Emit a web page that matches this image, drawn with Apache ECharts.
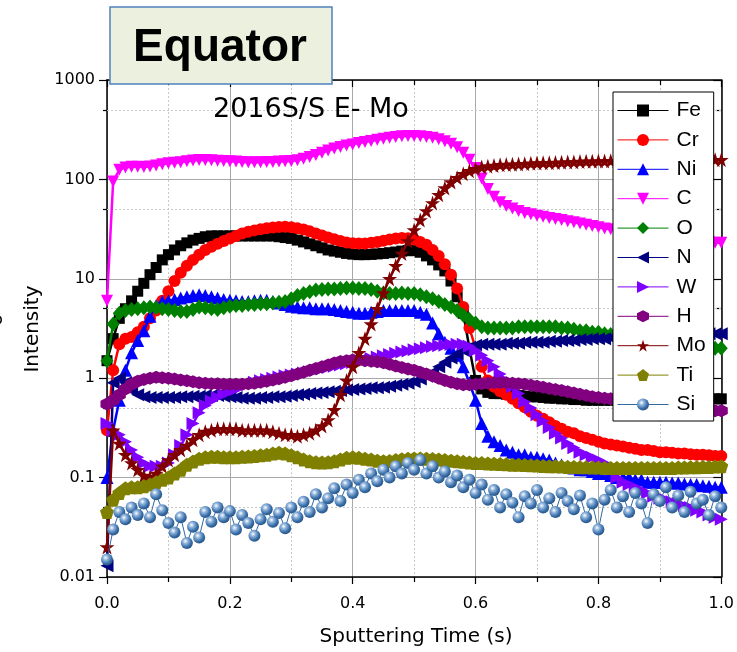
<!DOCTYPE html>
<html><head><meta charset="utf-8">
<script src="https://cdn.jsdelivr.net/npm/echarts@6/dist/echarts.min.js"></script>
<style>html,body{margin:0;padding:0;background:#fff}#c{width:737px;height:652px}</style>
</head><body><div id="c"></div>
<script>
// ---- data ----
const times = [
0.00,0.01,0.02,0.03,0.04,0.05,0.06,0.07,0.08,0.09,
0.10,0.11,0.12,0.13,0.14,0.15,0.16,0.17,0.18,0.19,
0.20,0.21,0.22,0.23,0.24,0.25,0.26,0.27,0.28,0.29,
0.30,0.31,0.32,0.33,0.34,0.35,0.36,0.37,0.38,0.39,
0.40,0.41,0.42,0.43,0.44,0.45,0.46,0.47,0.48,0.49,
0.50,0.51,0.52,0.53,0.54,0.55,0.56,0.57,0.58,0.59,
0.60,0.61,0.62,0.63,0.64,0.65,0.66,0.67,0.68,0.69,
0.70,0.71,0.72,0.73,0.74,0.75,0.76,0.77,0.78,0.79,
0.80,0.81,0.82,0.83,0.84,0.85,0.86,0.87,0.88,0.89,
0.90,0.91,0.92,0.93,0.94,0.95,0.96,0.97,0.98,0.99,
1.00];

const feVals = [
1.5,2.5,4.0,5.0,6.0,7.5,9.0,11,13,15.5,
17.5,19.5,21.5,23,24.5,25.5,26.5,27,27,27,
27,27,27,27,27,27,27,27,26.5,26,
25.5,24.5,23.5,22.5,21.5,20.5,19.5,19,18.5,18,
17.7,17.5,17.5,17.6,17.8,18,18.3,18.6,19,19.2,
19.2,18.5,17,15.5,13.8,12,9.5,6.6,4.5,2.0,
0.95,0.78,0.72,0.7,0.7,0.69,0.68,0.67,0.66,0.65,
0.65,0.64,0.63,0.63,0.62,0.62,0.61,0.61,0.6,0.6,
0.6,0.6,0.6,0.6,0.6,0.6,0.6,0.6,0.6,0.6,
0.6,0.6,0.6,0.6,0.61,0.61,0.61,0.62,0.62,0.62,
0.62];

const crVals = [
0.3,1.2,2.2,2.5,2.6,2.9,3.3,4.0,4.8,6.0,
7.5,9.5,11.5,13.5,15.5,17.5,19.5,21,22.5,24,
25.5,27,28.5,29.7,30.7,31.5,32.2,32.8,33.2,33.3,
33,32.3,31.3,30,28.6,27.2,26,25,24,23.2,
22.8,22.6,22.7,23,23.5,24.2,24.8,25.4,25.8,25.6,
24.8,23.5,22,19.5,17,14,11,8,5.2,3.2,
2.0,1.3,0.95,0.82,0.74,0.68,0.62,0.56,0.51,0.46,
0.42,0.39,0.36,0.33,0.31,0.29,0.28,0.26,0.25,0.24,
0.23,0.22,0.215,0.21,0.205,0.2,0.195,0.19,0.19,0.185,
0.18,0.18,0.178,0.175,0.175,0.172,0.17,0.17,0.168,0.165,
0.165];

const niVals = [
0.1,0.3,0.6,1.2,1.8,2.4,3.0,4.2,5.4,5.9,
6.0,6.2,6.4,6.6,6.8,6.9,6.8,6.6,6.4,6.2,
6.1,6.0,5.9,5.9,6.0,6.1,6.1,5.9,5.7,5.5,
5.3,5.2,5.1,5.1,5.0,5.0,5.0,4.9,4.8,4.7,
4.6,4.5,4.5,4.6,4.7,4.8,4.8,4.8,4.8,4.8,
4.8,4.6,4.4,3.6,2.8,2.3,2.0,1.7,1.3,0.9,
0.6,0.35,0.26,0.23,0.21,0.19,0.18,0.17,0.17,0.16,
0.16,0.155,0.15,0.14,0.135,0.13,0.125,0.12,0.12,0.115,
0.11,0.11,0.105,0.1,0.1,0.1,0.095,0.095,0.09,0.09,
0.09,0.09,0.088,0.088,0.086,0.085,0.085,0.083,0.082,0.08,
0.08];

const cVals = [
6,95,125,132,134,134,133,135,138,142,
145,147,149,152,155,157,157,156,154,153,
152,151,150,149,149,149,150,150,151,152,
153,156,161,168,176,185,195,204,212,219,
225,232,238,244,250,256,262,267,271,273,
273,271,267,262,254,242,228,210,185,158,
130,102,80,67,59,54,51,48,46,44.5,
43,42,41,40,39,38,37,36,35,34,
33,32,31.5,31,30.5,30,29.5,29,28.5,28,
27.5,27,26.5,26,25.5,25,24.5,24,23.5,23,
23];

const oVals = [
1.5,3.5,4.5,4.8,4.9,5.0,5.1,5.2,5.1,5.0,
4.9,4.8,4.7,4.7,4.9,5.2,5.1,5.0,4.9,5.1,
5.3,5.4,5.4,5.5,5.5,5.6,5.6,5.7,5.8,5.9,
6.3,6.8,7.1,7.4,7.7,7.8,7.9,7.9,8.0,8.1,
8.1,8.0,8.0,7.8,7.5,7.2,7.1,7.1,7.2,7.1,
7.1,6.9,6.6,6.3,5.9,5.5,5.2,4.8,4.3,3.9,
3.6,3.3,3.2,3.2,3.2,3.2,3.2,3.3,3.3,3.3,
3.3,3.3,3.3,3.3,3.2,3.2,3.1,3.0,3.0,2.9,
2.9,2.8,2.75,2.7,2.65,2.6,2.55,2.5,2.45,2.4,
2.4,2.35,2.3,2.25,2.2,2.2,2.15,2.1,2.05,2.0,
2.0];

const nVals = [
0.013,0.9,1.0,0.9,0.75,0.68,0.65,0.64,0.64,0.64,
0.64,0.64,0.65,0.65,0.66,0.66,0.67,0.67,0.67,0.66,
0.65,0.64,0.63,0.63,0.63,0.64,0.64,0.65,0.65,0.66,
0.67,0.68,0.69,0.7,0.71,0.72,0.73,0.74,0.75,0.76,
0.77,0.78,0.79,0.8,0.8,0.81,0.83,0.85,0.87,0.89,
0.92,0.98,1.05,1.15,1.3,1.45,1.6,1.75,1.9,2.05,
2.15,2.2,2.2,2.2,2.2,2.25,2.25,2.25,2.3,2.3,
2.3,2.3,2.35,2.35,2.4,2.4,2.4,2.45,2.45,2.5,
2.5,2.5,2.55,2.55,2.55,2.6,2.6,2.6,2.6,2.65,
2.65,2.65,2.7,2.7,2.7,2.7,2.75,2.75,2.8,2.8,
2.8];

const wVals = [
0.35,0.3,0.27,0.23,0.19,0.16,0.14,0.13,0.13,0.13,
0.14,0.17,0.21,0.27,0.35,0.45,0.53,0.59,0.64,0.69,
0.73,0.77,0.82,0.87,0.91,0.94,0.97,1.0,1.03,1.06,
1.08,1.1,1.13,1.16,1.2,1.24,1.28,1.32,1.36,1.4,
1.44,1.48,1.53,1.58,1.63,1.68,1.73,1.78,1.83,1.88,
1.93,1.98,2.03,2.08,2.12,2.15,2.18,2.2,2.2,2.1,
1.9,1.7,1.5,1.3,1.1,0.95,0.82,0.7,0.58,0.5,
0.43,0.37,0.32,0.28,0.25,0.22,0.2,0.18,0.17,0.16,
0.15,0.14,0.12,0.1,0.09,0.085,0.08,0.075,0.07,0.065,
0.062,0.06,0.057,0.055,0.052,0.05,0.047,0.045,0.042,0.04,
0.038];

const hVals = [
0.55,0.6,0.68,0.78,0.87,0.93,0.97,1.0,1.02,1.01,
1.0,0.98,0.96,0.94,0.92,0.9,0.89,0.88,0.88,0.87,
0.87,0.87,0.87,0.88,0.89,0.91,0.93,0.96,0.99,1.02,
1.06,1.1,1.15,1.2,1.25,1.3,1.36,1.42,1.47,1.5,
1.52,1.52,1.5,1.48,1.46,1.43,1.38,1.33,1.28,1.24,
1.2,1.15,1.1,1.05,1.0,0.95,0.91,0.88,0.86,0.86,
0.87,0.88,0.89,0.9,0.9,0.9,0.89,0.88,0.87,0.85,
0.83,0.81,0.79,0.77,0.75,0.73,0.71,0.69,0.67,0.65,
0.64,0.63,0.62,0.61,0.6,0.59,0.58,0.57,0.56,0.55,
0.54,0.53,0.52,0.51,0.5,0.5,0.49,0.48,0.48,0.47,
0.47];

const moVals = [
0.02,0.3,0.22,0.17,0.14,0.12,0.105,0.1,0.11,0.13,
0.15,0.17,0.19,0.21,0.24,0.27,0.29,0.3,0.31,0.31,
0.31,0.31,0.3,0.3,0.3,0.3,0.3,0.29,0.28,0.27,
0.27,0.26,0.27,0.28,0.3,0.33,0.38,0.48,0.68,0.95,
1.3,1.8,2.5,3.5,5.0,7.2,10,13.5,18,24,
31,39,48,58,70,82,94,104,114,122,
128,133,136,138,140,141,142,143,144,145,
146,147,147,148,149,150,150,151,152,152,
153,153,154,154,155,155,155,156,156,156,
156,157,157,157,157,157,158,158,158,158,
158];

const tiVals = [
0.045,0.06,0.07,0.078,0.08,0.08,0.082,0.085,0.09,0.095,
0.1,0.11,0.12,0.135,0.145,0.155,0.16,0.162,0.162,0.16,
0.16,0.16,0.162,0.163,0.165,0.168,0.17,0.175,0.178,0.175,
0.168,0.16,0.152,0.146,0.143,0.142,0.143,0.146,0.152,0.158,
0.16,0.158,0.155,0.152,0.148,0.146,0.147,0.15,0.153,0.155,
0.156,0.156,0.155,0.154,0.152,0.15,0.148,0.146,0.144,0.142,
0.14,0.14,0.139,0.138,0.137,0.136,0.135,0.135,0.134,0.133,
0.132,0.131,0.13,0.13,0.129,0.128,0.128,0.127,0.127,0.126,
0.126,0.125,0.125,0.125,0.125,0.125,0.125,0.125,0.125,0.125,
0.125,0.125,0.125,0.126,0.126,0.127,0.127,0.128,0.128,0.129,
0.13];

const siVals = [
0.015,0.03,0.045,0.038,0.05,0.042,0.055,0.04,0.068,0.047,
0.035,0.028,0.04,0.022,0.032,0.025,0.045,0.036,0.05,0.04,
0.046,0.03,0.042,0.035,0.026,0.038,0.048,0.036,0.044,0.031,
0.05,0.04,0.057,0.045,0.068,0.05,0.062,0.078,0.058,0.085,
0.07,0.095,0.08,0.11,0.092,0.12,0.1,0.13,0.11,0.14,
0.12,0.15,0.11,0.13,0.1,0.115,0.09,0.105,0.08,0.095,
0.07,0.085,0.06,0.075,0.05,0.068,0.056,0.04,0.065,0.055,
0.075,0.05,0.062,0.045,0.07,0.058,0.048,0.066,0.04,0.055,
0.03,0.06,0.075,0.05,0.065,0.045,0.07,0.055,0.035,0.068,
0.058,0.08,0.05,0.066,0.045,0.072,0.055,0.06,0.042,0.065,
0.05];

const seriesNames = ['Fe','Cr','Ni','C','O','N','W','H','Mo','Ti','Si'];
const xTickLabels = ['0.0','0.2','0.4','0.6','0.8','1.0'];
const yTickLabels = ['0.01','0.1','1','10','100','1000'];
const yMinorValues = [0.05,0.5,5,50,500];

// ---- styles ----
const P = {
  down:'path://M-1,-1L1,-1L0,1Z',
  left:'path://M1,-1L1,1L-1,0Z',
  right:'path://M-1,-1L-1,1L1,0Z',
  hex:'path://M0,-1L0.866,-0.5L0.866,0.5L0,1L-0.866,0.5L-0.866,-0.5Z',
  star:'path://M0,-1L0.2245,-0.309L0.951,-0.309L0.363,0.118L0.588,0.809L0,0.382L-0.588,0.809L-0.363,0.118L-0.951,-0.309L-0.2245,-0.309Z',
  pent:'path://M0,-1L0.951,-0.309L0.588,0.809L-0.588,0.809L-0.951,-0.309Z'
};
const sphere = {type:'radial',x:0.38,y:0.35,r:0.7,colorStops:[
  {offset:0,color:'#ffffff'},{offset:0.3,color:'#8fb4dc'},{offset:0.7,color:'#3a6ea8'},{offset:1,color:'#23507f'}]};
const styles = [
  {vals:feVals, color:'#000000', symbol:'rect', size:11},
  {vals:crVals, color:'#ff0000', symbol:'circle', size:12},
  {vals:niVals, color:'#0000ff', symbol:'triangle', size:13},
  {vals:cVals,  color:'#ff00ff', symbol:P.down, size:12},
  {vals:oVals,  color:'#008000', symbol:'diamond', size:[13,15]},
  {vals:nVals,  color:'#000080', symbol:P.left, size:13},
  {vals:wVals,  color:'#8000ff', symbol:P.right, size:13},
  {vals:hVals,  color:'#800080', symbol:P.hex, size:13},
  {vals:moVals, color:'#800000', symbol:P.star, size:15},
  {vals:tiVals, color:'#808000', symbol:P.pent, size:14},
  {vals:siVals, color:'#2f6aa3', symbol:'circle', size:12, fill:sphere}
];

const series = styles.map((s,i)=>({
  name: seriesNames[i],
  type:'line',
  xAxisIndex:0, yAxisIndex:0,
  data: times.map((t,k)=>[t, s.vals[k]]),
  symbol: s.symbol,
  symbolSize: s.size,
  showSymbol:true,
  lineStyle:{color:s.color, width: i===10 ? 1 : 2.5},
  itemStyle:{color: s.fill || s.color, borderWidth:0},
  emphasis:{disabled:true},
  z: 2 + i*0.01
}));
series[0].markLine = {
  silent:true, z:1, symbol:['none','none'], label:{show:false}, animation:false,
  lineStyle:{color:'#c8c8c8', type:[2,2], width:1},
  emphasis:{disabled:true},
  data: yMinorValues.map(v=>({yAxis:v}))
};

const axisFont = {fontFamily:'DejaVu Sans', fontSize:16, color:'#000'};
const blackLine = {show:true, lineStyle:{color:'#000', width:1.5}};

const chart = echarts.init(document.getElementById('c'), null, {renderer:'canvas'});
chart.setOption({
  animation:false,
  backgroundColor:'#fff',
  grid:{left:107, right:14, top:80, bottom:75, containLabel:false},
  xAxis:[
    {type:'value', position:'bottom', min:0, max:1, interval:0.2,
     axisLine:blackLine,
     axisTick:{show:true, inside:false, length:7, lineStyle:{color:'#000', width:1.2}},
     minorTick:{show:true, splitNumber:2, length:5, lineStyle:{color:'#000', width:1.2}},
     splitLine:{show:true, lineStyle:{color:'#a8a8a8', width:1}},
     minorSplitLine:{show:true, lineStyle:{color:'#c8c8c8', type:[2,2], width:1}},
     axisLabel:{margin:19, ...axisFont, formatter:v=>xTickLabels[Math.round(v/0.2)]}},
    {type:'value', position:'top', min:0, max:1, interval:0.2,
     axisLine:blackLine,
     axisTick:{show:true, inside:true, length:7, lineStyle:{color:'#000', width:1.2}},
     minorTick:{show:true, splitNumber:2, length:5, lineStyle:{color:'#000', width:1.2}},
     splitLine:{show:false}, axisLabel:{show:false}}
  ],
  yAxis:[
    {type:'log', logBase:10, min:0.01, max:1000, position:'left',
     axisLine:blackLine,
     axisTick:{show:true, inside:false, length:8, lineStyle:{color:'#000', width:1.2}},
     splitLine:{show:true, lineStyle:{color:'#a8a8a8', width:1}},
     minorTick:{show:false}, minorSplitLine:{show:false},
     axisLabel:{margin:12, ...axisFont, formatter:v=>yTickLabels[Math.round(Math.log10(v))+2]}},
    {type:'log', logBase:10, min:0.01, max:1000, position:'left',
     axisLine:{show:false},
     axisTick:{show:true, inside:false, length:4, customValues:yMinorValues, lineStyle:{color:'#000', width:1.2}},
     splitLine:{show:false}, axisLabel:{show:false}},
    {type:'log', logBase:10, min:0.01, max:1000, position:'right',
     axisLine:blackLine,
     axisTick:{show:true, inside:true, length:8, lineStyle:{color:'#000', width:1.2}},
     splitLine:{show:false}, axisLabel:{show:false}},
    {type:'log', logBase:10, min:0.01, max:1000, position:'right',
     axisLine:{show:false},
     axisTick:{show:true, inside:true, length:5, customValues:yMinorValues, lineStyle:{color:'#000', width:1.2}},
     splitLine:{show:false}, axisLabel:{show:false}}
  ],
  legend:{
    show:true, orient:'vertical', left:613, top:92, z:10,
    data: seriesNames,
    itemWidth:51, itemHeight:15, itemGap:8.4,
    padding:[8,8,6,4],
    backgroundColor:'#fff', borderColor:'#000', borderWidth:1,
    lineStyle:{width:1},
    textStyle:{fontFamily:'Liberation Sans, Arial', fontSize:21, color:'#000', lineHeight:20, padding:[0,0,0,3]},
    selectedMode:false
  },
  graphic:[
    {type:'rect', z:20, shape:{x:110, y:7, width:222, height:77},
     style:{fill:'#ebf1de', stroke:'#4f81bd', lineWidth:1.5}},
    {type:'text', z:21, x:220, y:48,
     style:{text:'Equator', fill:'#000', font:'bold 46px "Liberation Sans", Arial', align:'center', verticalAlign:'middle'}},
    {type:'text', z:21, x:213, y:110,
     style:{text:'2016S/S E- Mo', fill:'#000', font:'27px "DejaVu Sans"', align:'left', verticalAlign:'middle'}},
    {type:'text', z:21, x:416, y:637,
     style:{text:'Sputtering Time (s)', fill:'#000', font:'20px "DejaVu Sans"', align:'center', verticalAlign:'middle'}},
    {type:'text', z:21, x:33, y:329, rotation:Math.PI/2,
     style:{text:'Intensity', fill:'#000', font:'20px "DejaVu Sans"', align:'center', verticalAlign:'middle'}},
    {type:'text', z:21, x:-3, y:320, rotation:Math.PI/2,
     style:{text:'o', fill:'#000', font:'20px "DejaVu Sans"', align:'center', verticalAlign:'middle'}}
  ],
  series: series
});
</script>
</body></html>
